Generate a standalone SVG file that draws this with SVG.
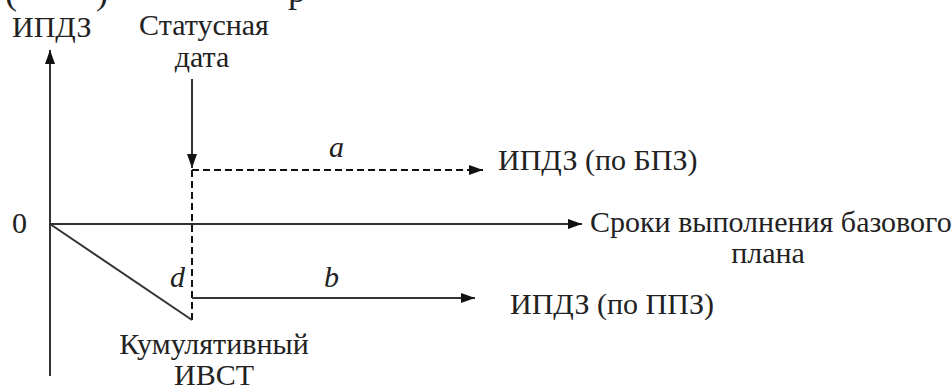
<svg xmlns="http://www.w3.org/2000/svg" width="952" height="385" viewBox="0 0 952 385">
<defs>
<style>
text{font-family:'Liberation Serif','Times New Roman',serif;font-size:30px;fill:#222}
.i{font-style:italic}
.c{text-anchor:middle}
.ln{stroke:#333;stroke-width:2;fill:none}
.ds{stroke:#111;stroke-width:2;fill:none;stroke-dasharray:7 4}
</style>
<marker id="ah" viewBox="0 0 14 10" refX="14" refY="5" markerWidth="14" markerHeight="10" markerUnits="userSpaceOnUse" orient="auto">
<path d="M0,0 L14,5 L0,10 z" fill="#111"/>
</marker>
</defs>
<rect width="952" height="385" fill="#fff"/>
<g id="page-fragment">
<text x="5" y="4" style="font-size:36px">(</text>
<text x="96" y="4" style="font-size:36px">)</text>
<text x="288" y="2" style="font-size:36px">р</text>
</g>
<g id="connectors">
<line id="y-axis" class="ln" x1="50" y1="376" x2="50" y2="50" marker-end="url(#ah)"/>
<line id="x-axis" class="ln" x1="50" y1="224" x2="582" y2="224" marker-end="url(#ah)"/>
<line id="status-arrow" class="ln" x1="192" y1="79" x2="192" y2="168" marker-end="url(#ah)"/>
<line id="a-line" class="ds" x1="192" y1="170" x2="483" y2="170" marker-end="url(#ah)"/>
<line id="d-line" class="ds" x1="192" y1="170" x2="192" y2="320"/>
<line id="ivst" class="ln" x1="50" y1="224" x2="192" y2="320"/>
<line id="b-line" class="ln" x1="192" y1="298" x2="475" y2="298" marker-end="url(#ah)"/>
</g>
<g id="label-ipdz-axis"><text x="12" y="37">ИПДЗ</text></g>
<g id="label-status"><text class="c" x="204" y="35">Статусная</text><text class="c" x="202" y="67">дата</text></g>
<g id="label-zero"><text x="12" y="233">0</text></g>
<g id="label-a"><text class="i" x="329" y="157">a</text></g>
<g id="label-d"><text class="i" x="170" y="287">d</text></g>
<g id="label-b"><text class="i" x="324" y="287">b</text></g>
<g id="label-bpz"><text x="498" y="170">ИПДЗ (по БПЗ)</text></g>
<g id="label-terms"><text x="590" y="232">Сроки выполнения базового</text><text class="c" x="768" y="263">плана</text></g>
<g id="label-ppz"><text x="510" y="314">ИПДЗ (по ППЗ)</text></g>
<g id="label-ivst"><text class="c" x="214" y="354">Кумулятивный</text><text class="c" x="214" y="385">ИВСТ</text></g>
</svg>
